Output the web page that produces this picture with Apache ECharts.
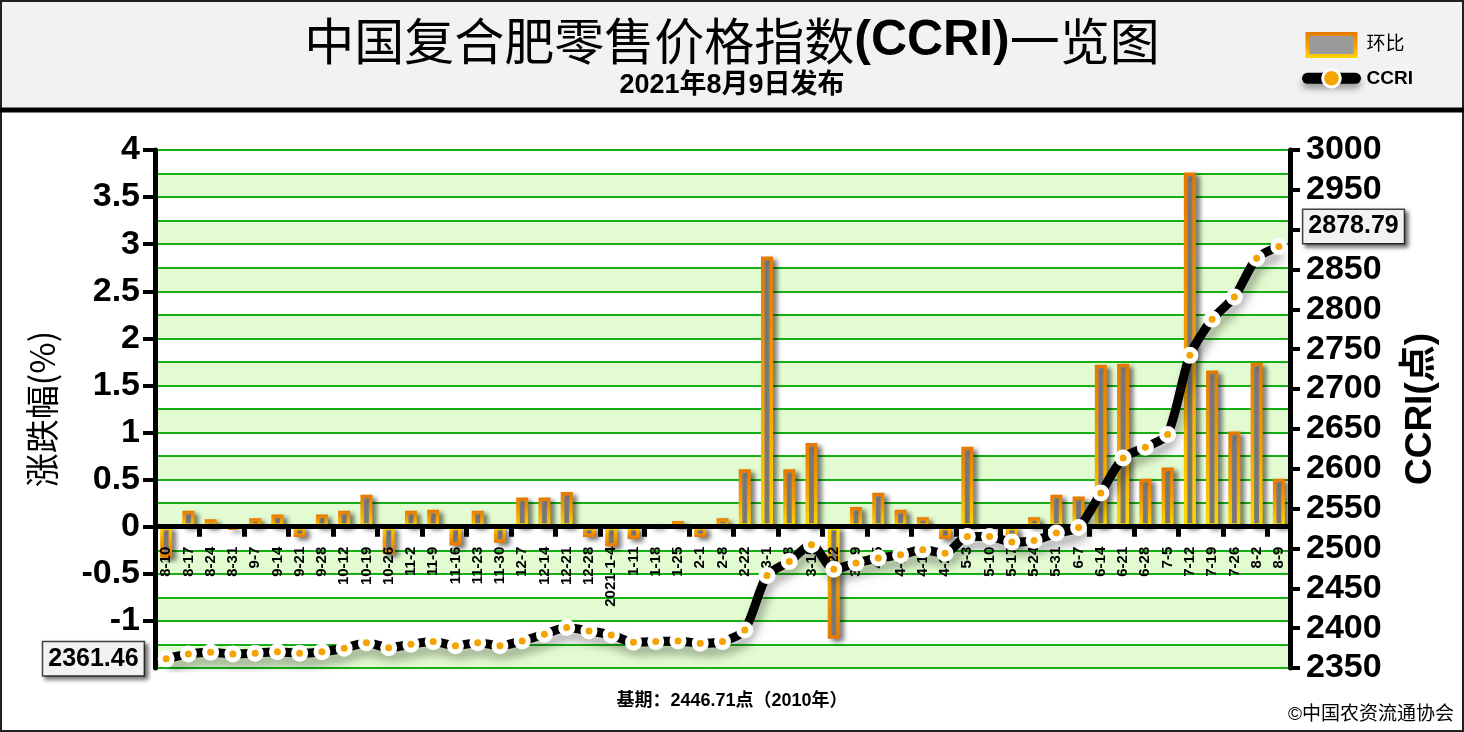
<!DOCTYPE html>
<html>
<head>
<meta charset="utf-8">
<script src="https://cdn.jsdelivr.net/npm/echarts@6/dist/echarts.min.js"></script>
<style>
html,body{margin:0;padding:0;background:#fff;}
#main{width:1464px;height:732px;}
</style>
</head>
<body>
<div id="main"></div>
<script>
const categories = [
  '8-10','8-17','8-24','8-31','9-7','9-14','9-21','9-28','10-12','10-19',
  '10-26','11-2','11-9','11-16','11-23','11-30','12-7','12-14','12-21','12-28',
  '2021-1-4','1-11','1-18','1-25','2-1','2-8','2-22','3-1','3-8','3-15',
  '3-22','3-29','4-5','4-12','4-19','4-26','5-3','5-10','5-17','5-24',
  '5-31','6-7','6-14','6-21','6-28','7-5','7-12','7-19','7-26','8-2','8-9'
];
const changePct = [
  -0.33, 0.17, 0.08, -0.03, 0.09, 0.13, -0.11, 0.13, 0.17, 0.34,
  -0.29, 0.17, 0.18, -0.20, 0.17, -0.17, 0.31, 0.31, 0.37, -0.11,
  -0.21, -0.13, 0.02, 0.06, -0.11, 0.09, 0.61, 2.87, 0.61, 0.89,
  -1.19, 0.21, 0.36, 0.18, 0.10, -0.13, 0.85, 0.00, -0.20, 0.10,
  0.34, 0.32, 1.72, 1.73, 0.51, 0.63, 3.76, 1.66, 1.01, 1.74, 0.51
];
const ccri = [
  2361.46, 2367.6, 2369.7, 2367.6, 2368.5, 2370.5, 2368.5, 2370.5, 2374.8, 2381.8,
  2375.5, 2379.8, 2383.1, 2378.0, 2381.8, 2378.0, 2384.0, 2392.4, 2400.7, 2396.5,
  2391.5, 2382.3, 2383.1, 2384.0, 2381.0, 2383.1, 2397.8, 2466.0, 2483.6, 2504.7,
  2474.0, 2481.6, 2488.0, 2492.0, 2498.3, 2494.0, 2515.0, 2515.0, 2508.0, 2510.0,
  2519.3, 2526.4, 2569.6, 2613.6, 2627.0, 2643.0, 2742.3, 2787.5, 2815.6, 2864.2, 2878.79
];
const pctMin = -1.5, pctMax = 4, pctStep = 0.5, bandStep = 0.25;
const ccriMin = 2350, ccriMax = 3000, ccriStep = 50;
const subTitleText = '2021年8月9日发布';
const baseText = '基期：2446.71点（2010年）';
const copyText = '©中国农资流通协会';

const FONT = "'Liberation Sans', 'Noto Sans CJK SC', sans-serif";
const ORANGE = '#e67800';
const YELLOW = '#ffd700';
const W = 1464, H = 732;
const GRID = {left: 155, right: 174, top: 150, bottom: 64};
const plotH = H - GRID.top - GRID.bottom;
// distance of the zero line above the plot bottom, from the left axis range
const zeroOffset = plotH * (0 - pctMin) / (pctMax - pctMin);

function grad(up) {
  return new echarts.graphic.LinearGradient(0, 0, 0, 1, up
    ? [{offset: 0, color: ORANGE}, {offset: 0.55, color: '#f5a300'}, {offset: 1, color: YELLOW}]
    : [{offset: 0, color: YELLOW}, {offset: 0.45, color: '#f5a300'}, {offset: 1, color: ORANGE}]);
}

const barData = changePct.map(v => ({
  value: v,
  itemStyle: {borderColor: grad(v >= 0)}
}));

const labelBox = {
  show: true,
  fontFamily: FONT,
  fontSize: 25,
  fontWeight: 'bold',
  color: '#000',
  backgroundColor: '#f2f2f2',
  borderColor: '#444',
  borderWidth: 1.5,
  padding: [5, 5, 3, 5],
  shadowBlur: 4,
  shadowColor: 'rgba(0,0,0,0.5)',
  shadowOffsetX: 3,
  shadowOffsetY: 3,
  formatter: p => p.value.toFixed(2)
};
const lineData = ccri.map((v, i) => {
  if (i === 0) return {value: v, label: Object.assign({}, labelBox, {position: 'left', distance: 14})};
  if (i === ccri.length - 1) return {value: v, label: Object.assign({}, labelBox, {position: 'right', distance: 16, offset: [0, -20]})};
  return v;
});

const chart = echarts.init(document.getElementById('main'));
chart.setOption({
  animation: false,
  backgroundColor: '#fff',
  textStyle: {fontFamily: FONT},
  graphic: [
    {type: 'rect', z: -10, shape: {x: 1, y: 1, width: 1462, height: 108}, style: {fill: '#f2f2f2', stroke: '#222', lineWidth: 2}},
    {type: 'rect', z: -10, shape: {x: 1, y: 111, width: 1462, height: 620}, style: {fill: '#fff', stroke: '#222', lineWidth: 2}},
    {type: 'line', z: -9, shape: {x1: 0, y1: 110, x2: 1464, y2: 110}, style: {stroke: '#000', lineWidth: 5}}
  ],
  title: [
    {
      text: '{a|中国复合肥零售价格指数}{b|(CCRI)}{a|一览图}',
      left: 'center', top: 11,
      textStyle: {
        rich: {
          a: {fontFamily: "'Noto Sans CJK SC', sans-serif", fontSize: 50, color: '#000', fontWeight: 'normal'},
          b: {fontFamily: FONT, fontSize: 50, color: '#000', fontWeight: 'bold'}
        }
      }
    },
    {text: subTitleText, left: 'center', top: 67, textStyle: {fontFamily: FONT, fontSize: 27, fontWeight: 'bold', color: '#000'}},
    {text: baseText, left: 'center', top: 687, textStyle: {fontFamily: FONT, fontSize: 18, fontWeight: 'bold', color: '#000'}},
    {text: copyText, right: 5, top: 700, textStyle: {fontFamily: FONT, fontSize: 19, fontWeight: 'normal', color: '#000'}}
  ],
  legend: {
    orient: 'vertical',
    left: 1297, top: 27,
    itemWidth: 48, itemHeight: 22, itemGap: 10,
    textStyle: {fontFamily: FONT, fontSize: 19, color: '#000', padding: [0, 0, 0, 6]},
    data: [
      {name: '环比', icon: 'rect', textStyle: {fontWeight: 'normal'},
       itemStyle: {color: '#999999', borderColor: grad(true), borderWidth: 4}},
      {name: 'CCRI', textStyle: {fontWeight: 'bold'},
       lineStyle: {color: '#000', width: 11, cap: 'round', shadowColor: 'rgba(0,0,0,0.35)', shadowBlur: 6, shadowOffsetY: 5},
       itemStyle: {color: '#f5a300', borderColor: '#fff', borderWidth: 3}}
    ]
  },
  grid: Object.assign({outerBoundsMode: 'none'}, GRID),
  xAxis: {
    type: 'category',
    data: categories,
    boundaryGap: true,
    position: 'bottom',
    offset: -zeroOffset,
    z: 4,
    axisLine: {onZero: false, lineStyle: {color: '#000', width: 5}},
    axisTick: {show: true, interval: 1, length: 10, lineStyle: {color: '#000', width: 5}},
    axisLabel: {interval: 0, rotate: 90, fontFamily: FONT, fontSize: 15, fontWeight: 'bold', color: '#000', margin: 20},
    splitLine: {show: false}
  },
  yAxis: [
    {
      type: 'value', position: 'left', min: pctMin, max: pctMax, interval: pctStep,
      name: '涨跌幅(%)', nameLocation: 'middle', nameRotate: 90, nameGap: 96,
      nameTextStyle: {fontFamily: "'Noto Sans CJK SC', sans-serif", fontSize: 34, color: '#000'},
      axisLine: {show: true, lineStyle: {color: '#000', width: 5}},
      axisTick: {show: true, inside: false, length: 12, lineStyle: {color: '#000', width: 4}},
      axisLabel: {fontFamily: FONT, fontSize: 34, fontWeight: 'bold', color: '#000', margin: 15, showMinLabel: false},
      splitLine: {show: false}
    },
    {
      type: 'value', position: 'right', min: ccriMin, max: ccriMax, interval: ccriStep,
      name: 'CCRI(点)', nameLocation: 'middle', nameRotate: 90, nameGap: 112,
      nameTextStyle: {fontFamily: FONT, fontSize: 37, fontWeight: 'bold', color: '#000'},
      axisLine: {show: true, lineStyle: {color: '#000', width: 5}},
      axisTick: {show: true, inside: false, length: 10, lineStyle: {color: '#000', width: 4}},
      axisLabel: {fontFamily: FONT, fontSize: 34, fontWeight: 'bold', color: '#000', margin: 16, formatter: v => String(v)},
      splitLine: {show: false}
    },
    {
      type: 'value', position: 'left', min: pctMin, max: pctMax, interval: bandStep,
      axisLine: {show: false}, axisTick: {show: false}, axisLabel: {show: false},
      splitLine: {show: true, lineStyle: {color: '#16b016', width: 2}},
      splitArea: {show: true, areaStyle: {color: ['#e2fbd0', '#ffffff']}}
    }
  ],
  series: [
    {
      name: '环比',
      type: 'bar',
      yAxisIndex: 0,
      barWidth: 12,
      data: barData,
      itemStyle: {
        color: '#999999',
        borderColor: grad(true),
        borderWidth: 3.5,
        shadowColor: 'rgba(0,0,0,0.45)',
        shadowBlur: 5,
        shadowOffsetX: 4,
        shadowOffsetY: 3
      },
      z: 3
    },
    {
      name: 'CCRI',
      type: 'line',
      yAxisIndex: 1,
      data: lineData,
      smooth: 0.25,
      symbol: 'circle',
      symbolSize: 12,
      showAllSymbol: true,
      lineStyle: {
        color: '#000', width: 9,
        shadowColor: 'rgba(0,0,0,0.35)', shadowBlur: 10, shadowOffsetX: 3, shadowOffsetY: 8
      },
      itemStyle: {color: '#f5a300', borderColor: '#fff', borderWidth: 5},
      z: 5
    }
  ]
});
</script>
</body>
</html>
